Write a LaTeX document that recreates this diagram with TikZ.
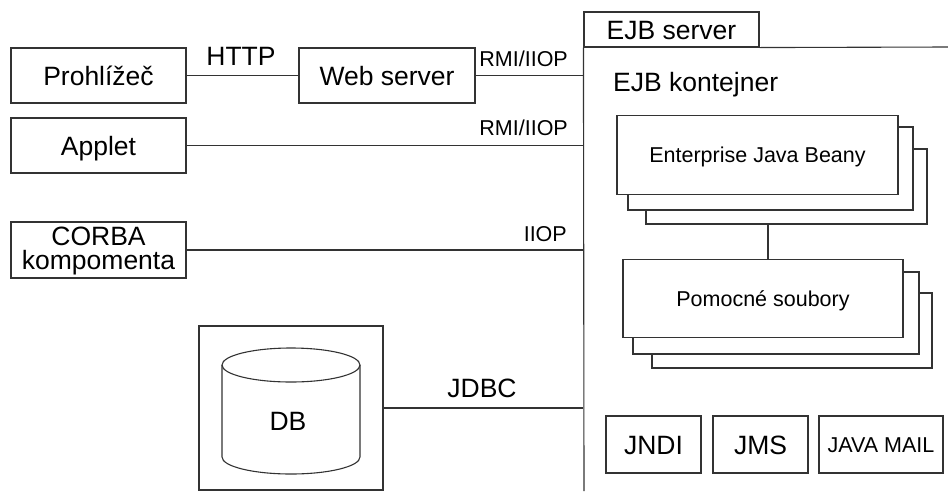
\documentclass[tikz,border=0pt]{standalone}
\usepackage{fontspec}
\setmainfont{Liberation Sans}
\newcommand\bigfs{\fontsize{26.5}{24}\selectfont}
\newcommand\smallfs{\fontsize{21.5}{22}\selectfont}
\begin{document}
\begin{tikzpicture}[x=1pt,y=-1pt,
  line/.style={draw=black!80, line width=1.1pt},
  bigtxt/.style={inner sep=0pt, font=\bigfs, text height=19pt, text depth=0pt},
  smalltxt/.style={inner sep=0pt, font=\smallfs, text height=15.4pt, text depth=0pt},
  box/.style={line, fill=white, inner sep=0pt},
  bigbox/.style={box, bigtxt},
  smallbox/.style={box, smalltxt}]
\useasboundingbox (0,0) rectangle (948,491);

% EJB server frame
\node[bigbox, minimum width=175, minimum height=35] (tab) at (671.5,29.5) {EJB server};
\coordinate (bottomend) at (584,491);
\coordinate (rightend) at (948,47);
\draw[line] (tab.south west) -- (bottomend);
\draw[line] (tab.south east) -- (rightend);
\node[bigtxt, anchor=west] (kont) at (613,82) {EJB kontejner};

% clients
\node[bigbox, minimum width=175, minimum height=55] (prohl) at (98.5,75.5) {Prohlížeč};
\node[bigbox, minimum width=176, minimum height=55] (web) at (387,75.5) {Web server};
\node[bigbox, minimum width=175, minimum height=55] (applet) at (98.5,145.5) {Applet};
\node[box, minimum width=175, minimum height=56] (corba) at (98.5,250) {};
\node[bigtxt] (corbaA) at (98.5,235.5) {CORBA};
\node[bigtxt, text height=15pt] (corbaB) at (98.5,261.5) {kompomenta};

% DB
\node[box, minimum width=184, minimum height=164] (dbbox) at (291,408) {};
\draw[line, fill=white] (222,365) -- (222,457) arc[start angle=180, end angle=360, x radius=69pt, y radius=17pt] -- (360,365);
\draw[line] (291,365) ellipse [x radius=69pt, y radius=17pt];
\node[bigtxt] (db) at (288,421) {DB};

% connectors
\draw[line] (prohl) -- (web);
\draw[line] (web.east) -- (web.east -| tab.west);
\draw[line] (applet.east) -- (applet.east -| tab.west);
\draw[line] (corba.east) -- (corba.east -| tab.west);
\draw[line] (dbbox.east) -- (dbbox.east -| tab.west);

% labels
\node[bigtxt] (http) at (241,56) {HTTP};
\node[smalltxt, anchor=east] (rmiA) at (568,59) {RMI/IIOP};
\node[smalltxt, anchor=east] (rmiB) at (568,127.5) {RMI/IIOP};
\node[smalltxt, anchor=east] (iiop) at (567,234) {IIOP};
\node[bigtxt] (jdbc) at (482,388) {JDBC};

% EJB stack
\node[box, minimum width=281, minimum height=75] (ejbC) at (786.5,186.5) {};
\node[box, minimum width=285, minimum height=83] (ejbB) at (770.5,168.5) {};
\node[smallbox, minimum width=281, minimum height=79] (ejbA) at (757.5,155) {Enterprise Java Beany};
\coordinate (cx) at (768,0);

% helper stack
\node[box, minimum width=280, minimum height=75] (pomC) at (792,330.5) {};
\node[box, minimum width=286, minimum height=82] (pomB) at (776,313) {};
\node[smallbox, minimum width=280, minimum height=78] (pomA) at (763,298.5) {Pomocné soubory};
\draw[line] (ejbC.south -| cx) -- (pomA.north -| cx);

% services
\node[bigbox, minimum width=95, minimum height=57] (jndi) at (653.5,444.5) {JNDI};
\node[bigbox, minimum width=95, minimum height=57] (jms) at (760.5,444.5) {JMS};
\node[smallbox, minimum width=124, minimum height=57] (mail) at (881,444.5) {JAVA MAIL};
\end{tikzpicture}
\end{document}
